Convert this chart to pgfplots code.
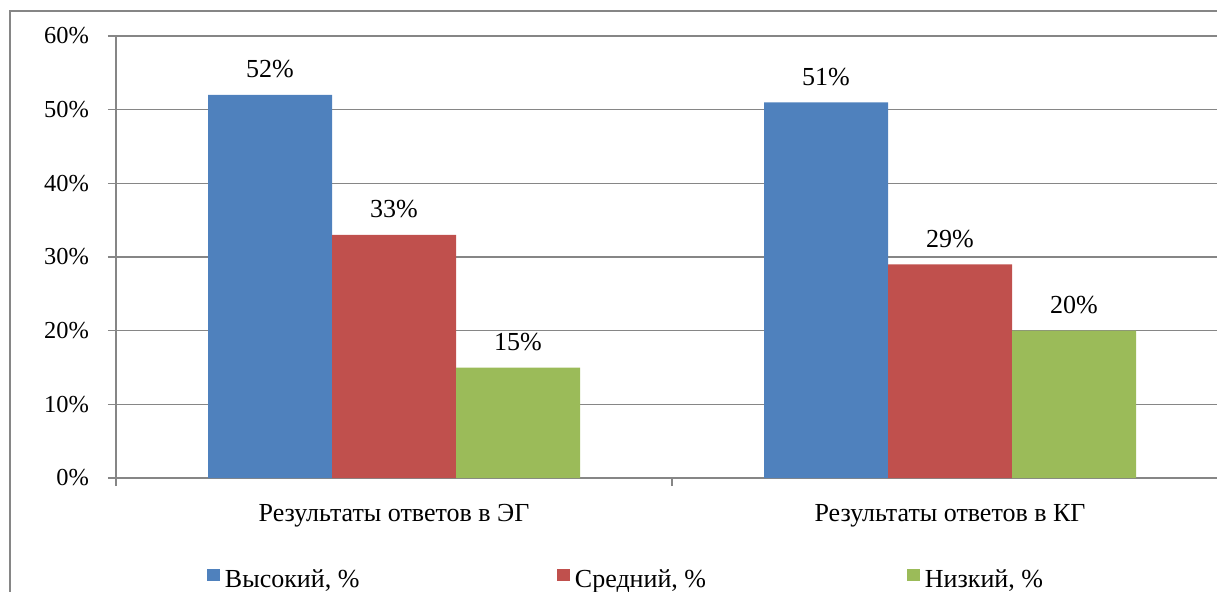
\documentclass[border=0pt]{standalone}
\usepackage{fontspec}
\setmainfont{Liberation Serif}
\usepackage{pgfplots}
\pgfplotsset{compat=1.18}
\definecolor{cBlue}{HTML}{4F81BD}
\definecolor{cRed}{HTML}{C0504D}
\definecolor{cGreen}{HTML}{9BBB59}
\definecolor{cGrid}{HTML}{868686}

\begin{document}
\begin{tikzpicture}[font=\fontsize{13}{15}\selectfont]
% outer chart frame (cropped on the right and bottom)
\draw[cGrid, line width=0.6pt] (5pt,-20pt) -- (5pt,290pt) -- (700pt,290pt);
\begin{axis}[
  at={(58pt,56.5pt)}, anchor=south west,
  scale only axis, width=556pt, height=221pt,
  ybar=0pt, bar width=62pt,
  xmin=-0.5, xmax=1.5, ymin=0, ymax=60,
  axis x line*=bottom, axis y line*=left,
  axis line style={cGrid, line width=0.6pt},
  xtick={-0.5,0.5,1.5}, x tick label as interval,
  xticklabels={Результаты ответов в ЭГ, Результаты ответов в КГ},
  xticklabel style={yshift=-5.5pt},
  ytick={0,10,...,60},
  yticklabel={\pgfmathprintnumber{\tick}\%},
  yticklabel style={font=\fontsize{12.2}{14}\selectfont, xshift=-6pt},
  /pgf/number format/assume math mode=true,
  tick align=outside, major tick length=4pt,
  tick style={cGrid, line width=0.6pt},
  ymajorgrids, grid style={cGrid, line width=0.6pt},
  nodes near coords={\pgfmathprintnumber{\pgfplotspointmeta}\%},
  nodes near coords style={anchor=base, yshift=8.5pt, black},
  legend columns=3,
  legend style={at={(0.0818,-0.231)}, anchor=west, draw=none, fill=none,
    inner sep=0pt, outer sep=0pt, nodes={inner sep=0pt},
    /tikz/every even column/.append style={column sep=0pt},
    /tikz/every odd column/.append style={column sep=0pt}},
  legend image code/.code={\fill[#1,draw=none] (0pt,-0.5pt) rectangle (6.5pt,5.5pt);},
]
\addplot[fill=cBlue, draw=none] coordinates {(0,52) (1,51)};
\addlegendentry{\hspace{2.5pt}\makebox[166pt][l]{Высокий, \%}}
\addplot[fill=cRed, draw=none] coordinates {(0,33) (1,29)};
\addlegendentry{\hspace{2.5pt}\makebox[166pt][l]{Средний, \%}}
\addplot[fill=cGreen, draw=none] coordinates {(0,15) (1,20)};
\addlegendentry{\hspace{2.5pt}\makebox[166pt][l]{Низкий, \%}}
\end{axis}
\pgfresetboundingbox
\path[use as bounding box] (0,0) rectangle (608.5pt,295.5pt);
\end{tikzpicture}
\end{document}
